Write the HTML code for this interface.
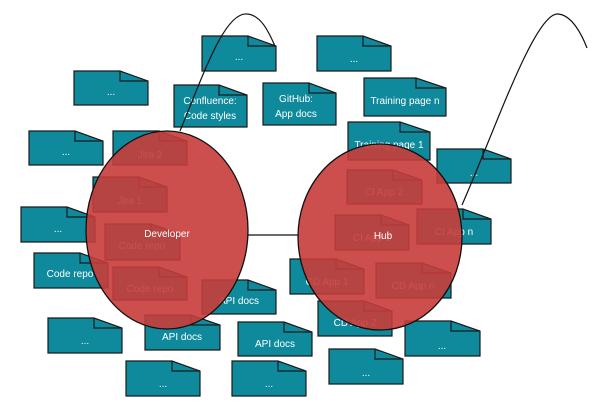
<!DOCTYPE html>
<html><head><meta charset="utf-8"><style>
html,body{margin:0;padding:0;background:#fff;}
svg{display:block;}
text{font-family:"Liberation Sans",sans-serif;font-size:10px;fill:#fff;text-anchor:middle;}
</style></head><body>
<svg width="600" height="407" viewBox="0 0 600 407" xmlns="http://www.w3.org/2000/svg">
<defs>
<g id="d"></g>
</defs>
<g stroke="#1a1a1a" stroke-width="1.2" fill="#0e8a9c">
<!-- doc boxes: path with folded corner -->
<!-- helper: M x y H x+w-15 L x+w y+10 V y+h H x Z and fold -->
<path d="M202 36H248L276 46V71H202Z"/><path d="M248 36V46H276" fill="none"/>
<path d="M74 71H120L148 81V105H74Z"/><path d="M120 71V81H148" fill="none"/>
<path d="M174 85H219L247 95V127H174Z"/><path d="M219 85V95H247" fill="none"/>
<path d="M263 83H309L336 93V125H263Z"/><path d="M309 83V93H336" fill="none"/>
<path d="M29 131H75L103 141V165H29Z"/><path d="M75 131V141H103" fill="none"/>
<path d="M113 131H159L187 141V165H113Z"/><path d="M159 131V141H187" fill="none"/>
<path d="M93 177H139L167 187V212H93Z"/><path d="M139 177V187H167" fill="none"/>
<path d="M21 207H67L95 217V242H21Z"/><path d="M67 207V217H95" fill="none"/>
<path d="M105 224H151L180 234V260H105Z"/><path d="M151 224V234H180" fill="none"/>
<path d="M34 253H80L108 263V288H34Z"/><path d="M80 253V263H108" fill="none"/>
<path d="M113 267H159L187 277V300H113Z"/><path d="M159 267V277H187" fill="none"/>
<path d="M202 280H248L276 290V314H202Z"/><path d="M248 280V290H276" fill="none"/>
<path d="M48 318H94L122 328V353H48Z"/><path d="M94 318V328H122" fill="none"/>
<path d="M145 315H191L220 325V350H145Z"/><path d="M191 315V325H220" fill="none"/>
<path d="M238 322H284L312 332V356H238Z"/><path d="M284 322V332H312" fill="none"/>
<path d="M126 361H172L200 371V396H126Z"/><path d="M172 361V371H200" fill="none"/>
<path d="M232 361H278L306 371V396H232Z"/><path d="M278 361V371H306" fill="none"/>
<path d="M317 36H363L391 46V71H317Z"/><path d="M363 36V46H391" fill="none"/>
<path d="M364 78H416L446 88V116H364Z"/><path d="M416 78V88H446" fill="none"/>
<path d="M348 122H400L430 132V160H348Z"/><path d="M400 122V132H430" fill="none"/>
<path d="M437 149H483L511 159V183H437Z"/><path d="M483 149V159H511" fill="none"/>
<path d="M347 170H393L422 180V204H347Z"/><path d="M393 170V180H422" fill="none"/>
<path d="M417 209H463L491 219V244H417Z"/><path d="M463 209V219H491" fill="none"/>
<path d="M335 215H381L409 225V250H335Z"/><path d="M381 215V225H409" fill="none"/>
<path d="M290 259H336L364 269V294H290Z"/><path d="M336 259V269H364" fill="none"/>
<path d="M376 263H422L451 273V298H376Z"/><path d="M422 263V273H451" fill="none"/>
<path d="M318 301H364L392 311V336H318Z"/><path d="M364 301V311H392" fill="none"/>
<path d="M405 321H451L480 331V356H405Z"/><path d="M451 321V331H480" fill="none"/>
<path d="M329 349H375L403 359V384H329Z"/><path d="M375 349V359H403" fill="none"/>
</g>
<g>
<text x="239" y="60">...</text>
<text x="111" y="95">...</text>
<text x="210" y="104" font-size="11">Confluence:</text>
<text x="210" y="119" font-size="11">Code styles</text>
<text x="296" y="102" font-size="11">GitHub:</text>
<text x="296" y="117" font-size="11">App docs</text>
<text x="66" y="155">...</text>
<text x="150" y="158" font-size="11">Jira 2</text>
<text x="130" y="204" font-size="11">Jira 1</text>
<text x="58" y="232">...</text>
<text x="142" y="249" font-size="11">Code repo</text>
<text x="70" y="277" font-size="11">Code repo</text>
<text x="150" y="292" font-size="11">Code repo</text>
<text x="239" y="304" font-size="11">API docs</text>
<text x="85" y="344">...</text>
<text x="182" y="340" font-size="11">API docs</text>
<text x="275" y="347" font-size="11">API docs</text>
<text x="163" y="387">...</text>
<text x="269" y="387">...</text>
<text x="354" y="62">...</text>
<text x="405" y="104" font-size="11">Training page n</text>
<text x="389" y="148" font-size="11">Training page 1</text>
<text x="474" y="176">...</text>
<text x="384" y="195" font-size="11">CI App 2</text>
<text x="454" y="235" font-size="11">CI App n</text>
<text x="372" y="241" font-size="11">CI App 1</text>
<text x="327" y="285" font-size="11">CD App 1</text>
<text x="413" y="289" font-size="11">CD App n</text>
<text x="355" y="326" font-size="11">CD App 2</text>
<text x="442" y="349">...</text>
<text x="366" y="376">...</text>
</g>
<line x1="248" y1="235" x2="299" y2="235" stroke="#111" stroke-width="1.2"/>
<ellipse cx="167" cy="230" rx="81" ry="99" fill="#c83c3a" fill-opacity="0.9" stroke="#111" stroke-width="1.3"/>
<ellipse cx="380" cy="237" rx="82" ry="93" fill="#c83c3a" fill-opacity="0.9" stroke="#111" stroke-width="1.3"/>
<text x="167" y="237" font-size="11">Developer</text>
<text x="383" y="239" font-size="11">Hub</text>
<path d="M180 131 C205 70 225 12 247 14 C262 15 270 35 275 46" fill="none" stroke="#111" stroke-width="1.2"/>
<path d="M462 205 C495 130 535 12 558 14 C572 15 582 35 587 48" fill="none" stroke="#111" stroke-width="1.2"/>
</svg>
</body></html>
